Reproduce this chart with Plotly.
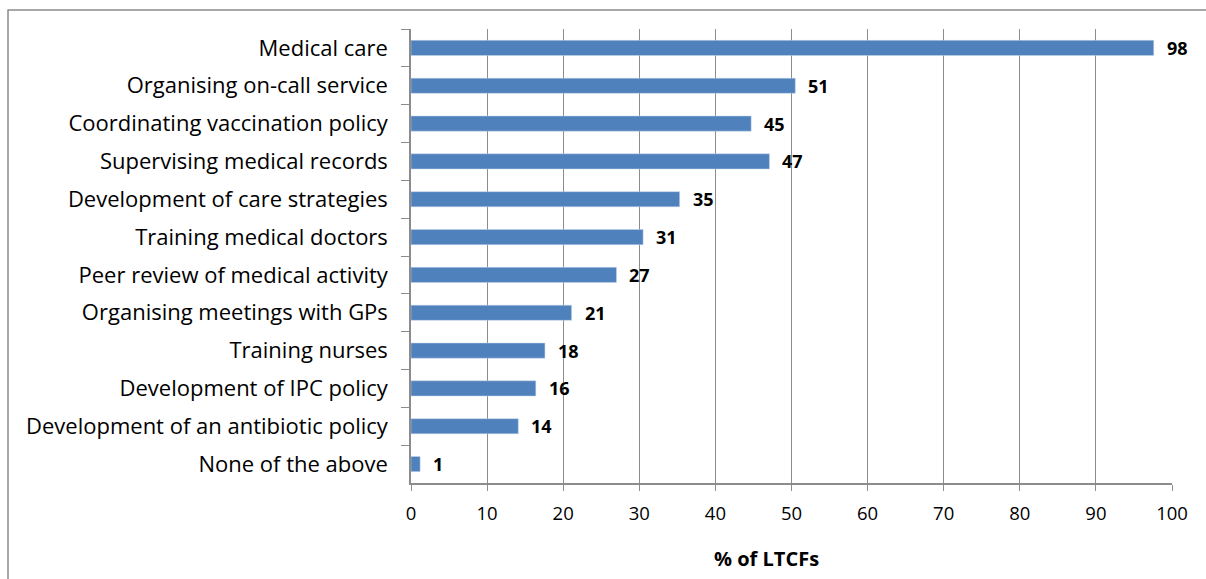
import plotly.graph_objects as go

categories = [
    "Medical care",
    "Organising on-call service",
    "Coordinating vaccination policy",
    "Supervising medical records",
    "Development of care strategies",
    "Training medical doctors",
    "Peer review of medical activity",
    "Organising meetings with GPs",
    "Training nurses",
    "Development of IPC policy",
    "Development of an antibiotic policy",
    "None of the above",
]
values = [97.6, 50.5, 44.7, 47.1, 35.3, 30.5, 27.0, 21.1, 17.6, 16.4, 14.1, 1.2]
labels = ["98", "51", "45", "47", "35", "31", "27", "21", "18", "16", "14", "1"]
x_ticks = [0, 10, 20, 30, 40, 50, 60, 70, 80, 90, 100]

FONT = "Open Sans"
GRID = "#8c8c8c"

fig = go.Figure()
fig.add_trace(go.Bar(
    y=categories,
    x=values,
    orientation="h",
    marker=dict(color="#4f81bd", line=dict(color="#c6d4ea", width=0.5)),
    hoverinfo="skip",
))

for c, v, t in zip(categories, values, labels):
    fig.add_annotation(
        x=v, y=c, xref="x", yref="y", text="<b>%s</b>" % t,
        showarrow=False, xanchor="left", yanchor="middle", xshift=11,
        font=dict(family=FONT, size=18, color="black"),
    )

L, R, T, B = 411, 34, 29, 96
W, H = 1206, 579
pw, ph = W - L - R, H - T - B

fig.add_annotation(
    text="<b>% of LTCFs</b>", xref="paper", yref="paper",
    x=(766 - L) / pw, y=-(558 - (H - B)) / ph, showarrow=False,
    xanchor="center", yanchor="middle",
    font=dict(family=FONT, size=20, color="black"),
)

fig.add_shape(
    type="rect", xref="paper", yref="paper",
    x0=(8 - L) / pw, x1=(1215 - L) / pw,
    y0=-(590 - (H - B)) / ph, y1=1 + (T - 10) / ph,
    line=dict(color="#8c8c8c", width=1.5), fillcolor="rgba(0,0,0,0)", layer="below",
)

fig.update_layout(
    width=W, height=H,
    margin=dict(l=L, r=R, t=T, b=B, pad=0),
    paper_bgcolor="white", plot_bgcolor="white",
    showlegend=False,
    bargap=0.6,
    font=dict(family=FONT, color="black"),
    xaxis=dict(
        range=[0, 100], tickvals=x_ticks, ticktext=[str(v) for v in x_ticks],
        showgrid=True, gridcolor=GRID, gridwidth=1,
        showline=True, linecolor=GRID, linewidth=1.5,
        ticks="outside", ticklen=6, tickcolor=GRID, tickwidth=1,
        tickfont=dict(family=FONT, size=18.5, color="black"),
        ticklabelstandoff=7,
        zeroline=False, fixedrange=True,
    ),
    yaxis=dict(
        categoryorder="array", categoryarray=categories,
        autorange="reversed",
        showline=True, linecolor=GRID, linewidth=1.5,
        ticks="outside", ticklen=8, tickcolor=GRID, tickwidth=1,
        tickson="boundaries",
        tickfont=dict(family=FONT, size=22, color="black"),
        ticklabelstandoff=17,
        showgrid=False, fixedrange=True,
    ),
)

fig.write_html("out.html", config={"displayModeBar": False},
               post_script="document.body.style.margin='0px';")
